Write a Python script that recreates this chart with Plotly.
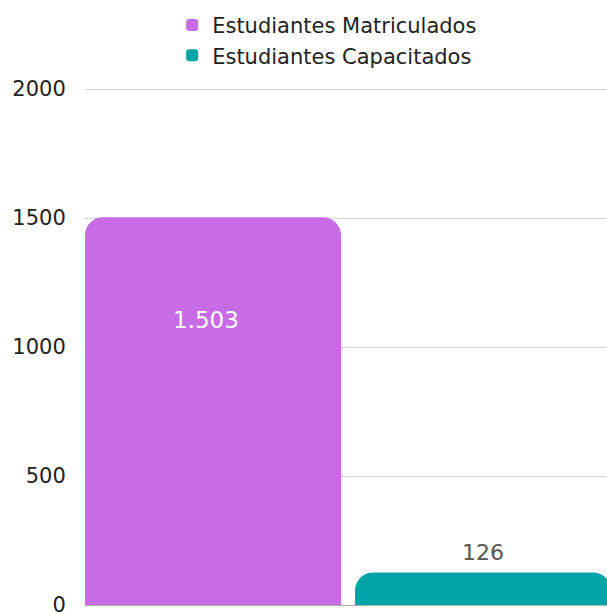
import plotly.graph_objects as go

series_names = ["Estudiantes Matriculados", "Estudiantes Capacitados"]
values = [1503, 126]
colors = ["#C86BE6", "#00A3A6"]
label_colors = ["#FFFFFF", "#555555"]
y_ticks = [0, 500, 1000, 1500, 2000]

def fmt(v):
    return f"{v:,}".replace(",", ".")

fig = go.Figure()
for name, v, c in zip(series_names, values, colors):
    fig.add_trace(go.Bar(
        x=[name], y=[v], name=name, marker=dict(color=c, line=dict(width=0)),
        width=0.948,
    ))

# value labels
fig.add_annotation(x=series_names[0], y=values[0] * 0.735, text=fmt(values[0]),
                   showarrow=False, font=dict(color=label_colors[0], size=23, family="DejaVu Sans"),
                   yanchor="middle", xshift=-7)
fig.add_annotation(x=series_names[1], y=values[1], text=fmt(values[1]),
                   showarrow=False, font=dict(color=label_colors[1], size=22, family="DejaVu Sans"),
                   yanchor="bottom", yshift=5)

fig.update_layout(
    width=607, height=612,
    margin=dict(l=85, r=0, t=88, b=7, autoexpand=False),
    paper_bgcolor="white", plot_bgcolor="white",
    barmode="overlay",
    barcornerradius=18,
    font=dict(family="DejaVu Sans", size=21, color="#222222"),
    showlegend=True,
    legend=dict(orientation="v", x=0.167, xanchor="left", y=0.992, yref="container",
                yanchor="top", font=dict(size=21, color="#222222"),
                itemwidth=30, tracegroupgap=0, bgcolor="rgba(0,0,0,0)"),
    xaxis=dict(range=[-0.474, 1.459], showticklabels=False, showgrid=False,
               showline=True, linecolor="#AAAAAA", linewidth=1, zeroline=False,
               fixedrange=True, automargin=False),
    yaxis=dict(range=[0, 2004], tickvals=y_ticks, showgrid=True, gridcolor="#D4D4D4",
               gridwidth=1, zeroline=False, ticks="outside", ticklen=14,
               tickcolor="rgba(0,0,0,0)", tickfont=dict(size=21, color="#222222"),
               ticklabeloverflow="allow", automargin=False),
)

fig.write_html("out.html", config={"displayModeBar": False},
               post_script="document.body.style.margin='0px';")
